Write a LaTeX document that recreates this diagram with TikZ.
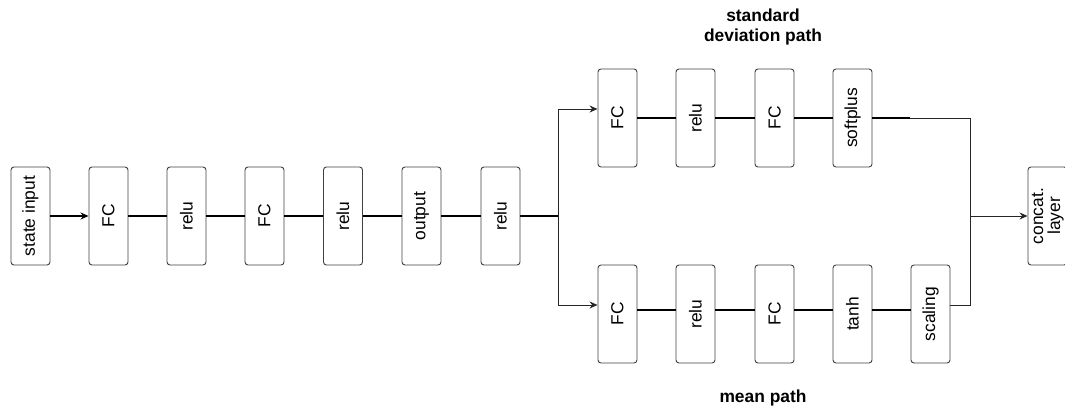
\documentclass[tikz,border=0pt]{standalone}
\usepackage{fontspec}
\setmainfont{Liberation Sans}
\usetikzlibrary{arrows.meta}
\begin{document}
\begin{tikzpicture}[x=1pt,y=-1pt,
  layer/.style={draw=black!75,line width=0.9pt,rounded corners=3pt,
    minimum width=39pt,minimum height=98pt,inner sep=0pt,
    font=\fontsize{17.4}{20}\selectfont},
  rowlink/.style={line width=1.6pt},
  branch/.style={line width=1pt,draw=black!85},
  tip/.style={-{Stealth[length=8pt,width=7pt]}},
  title/.style={font=\fontsize{17.4}{20.5}\selectfont\bfseries,align=center}]
\useasboundingbox (0,0) rectangle (1065,415);

% shared trunk
\node[layer] (in)  at (30.5,216) {\rotatebox{90}{state input}};
\node[layer] (fc1) at (108.5,216) {\rotatebox{90}{FC}};
\node[layer] (r1)  at (186.5,216) {\rotatebox{90}{relu}};
\node[layer] (fc2) at (264.5,216) {\rotatebox{90}{FC}};
\node[layer] (r2)  at (343,216) {\rotatebox{90}{relu}};
\node[layer] (out) at (421.5,216) {\rotatebox{90}{output}};
\node[layer] (r3)  at (500.5,216) {\rotatebox{90}{relu}};

% standard deviation branch
\node[layer] (sfc1) at (617.5,118) {\rotatebox{90}{FC}};
\node[layer] (sr)   at (695.5,118) {\rotatebox{90}{relu}};
\node[layer] (sfc2) at (774.5,118) {\rotatebox{90}{FC}};
\node[layer] (sp)   at (852.5,118) {\rotatebox{90}{softplus}};

% mean branch
\node[layer] (mfc1) at (617.5,314) {\rotatebox{90}{FC}};
\node[layer] (mr)   at (695.5,314) {\rotatebox{90}{relu}};
\node[layer] (mfc2) at (774.5,314) {\rotatebox{90}{FC}};
\node[layer] (mt)   at (852.5,314) {\rotatebox{90}{tanh}};
\node[layer] (ms)   at (930.5,314) {\rotatebox{90}{scaling}};

% merge
\node[layer,align=center] (cat) at (1047.5,216) {\rotatebox{90}{\begin{tabular}{@{}c@{}}concat.\\[-3pt]layer\end{tabular}}};

\node[title] (t1) at (763,27) {standard\\deviation path};
\node[title] (t2) at (763,398) {mean path};

\coordinate (split) at (558,216);
\coordinate (join) at (970,216);
\coordinate (spend) at (910,118);

% trunk links
\draw[rowlink,tip] (in) -- (fc1);
\draw[rowlink] (fc1) -- (r1);
\draw[rowlink] (r1) -- (fc2);
\draw[rowlink] (fc2) -- (r2);
\draw[rowlink] (r2) -- (out);
\draw[rowlink] (out) -- (r3);
\draw[rowlink] (r3) -- (split);

% fork
\draw[branch,tip] (split) |- ([yshift=9pt]sfc1.west);
\draw[branch,tip] (split) |- ([yshift=9pt]mfc1.west);

% branch links
\draw[rowlink] (sfc1) -- (sr);
\draw[rowlink] (sr) -- (sfc2);
\draw[rowlink] (sfc2) -- (sp);
\draw[rowlink] (sp) -- (spend);
\draw[rowlink] ([yshift=4pt]mfc1.east) -- ([yshift=4pt]mr.west);
\draw[rowlink] ([yshift=4pt]mr.east) -- ([yshift=4pt]mfc2.west);
\draw[rowlink] ([yshift=4pt]mfc2.east) -- ([yshift=4pt]mt.west);
\draw[rowlink] ([yshift=4pt]mt.east) -- ([yshift=4pt]ms.west);

% join into concat
\draw[branch] (spend) -| (join);
\draw[branch] ([yshift=9pt]ms.east) -| (join);
\draw[branch,tip] (join) -- (cat.west);
\end{tikzpicture}
\end{document}
